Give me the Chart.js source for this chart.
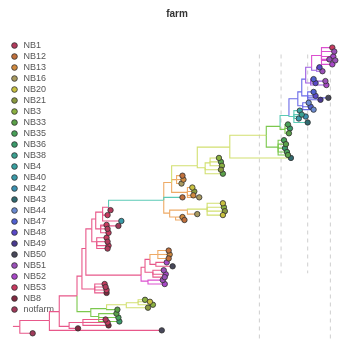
<!DOCTYPE html>
<html>
<head>
<meta charset="utf-8">
<script src="https://cdn.jsdelivr.net/npm/chart.js@4.4.1/dist/chart.umd.min.js"></script>
<style>
  html, body { margin: 0; padding: 0; background: #fff; }
  #wrap { width: 346px; height: 345px; }
</style>
</head>
<body>
<div id="wrap"><canvas id="tree"></canvas></div>
<script>
// legend groups (farms) and their colours
const groups = ['NB1', 'NB12', 'NB13', 'NB16', 'NB20', 'NB21', 'NB3', 'NB33', 'NB35', 'NB36', 'NB38', 'NB4',
  'NB40', 'NB42', 'NB43', 'NB44', 'NB47', 'NB48', 'NB49', 'NB50', 'NB51', 'NB52', 'NB53', 'NB8', 'notfarm'];
const groupColors = ['#b23a5c', '#c0703c', '#d08a40', '#a89a60', '#c8c040', '#8a9a40', '#8ab040', '#5aa048',
  '#48a058', '#3a9a6a', '#3aa090', '#38a0a0', '#3a9aa8', '#3a90b0', '#306a70', '#6a8ad0', '#5060d0', '#5a48c8',
  '#4a3a90', '#48485a', '#9a50b8', '#a848c8', '#c83a60', '#802a40', '#a03a5a'];

// branch tints
const tints = { pink: '#e8588a', orange: '#eeaa66', lime: '#d2e070', green: '#7cc84e', teal: '#5ccab6',
  blue: '#6a6ae8', purple: '#9a58e0', magenta: '#dc50d0' };

// internal nodes: divergence (x), tip position (y), parent, branch tint
const innerName = ['R', 'A', 'B', 'C', 'D', 'F', 'E', 'H', 'H1', 'H2', 'H3', 'H4', 'E2', 'I', 'G', 'K', 'K1', 'K2',
  'K3', 'K4', 'K5', 'K6', 'L', 'L1', 'L2', 'L3', 'L4', 'N', 'O', 'P', 'P1', 'P3', 'S', 'S1', 'S1a', 'T', 'U', 'W',
  'V', 'V1', 'X', 'X1', 'Y', 'Y1', 'Y2', 'Y3', 'Z', 'Z1', 'AA', 'AA1', 'AB', 'Q', 'Q1', 'Q2', 'R2'];
const innerX = [13, 20, 50, 60, 70, 84, 78, 92, 100, 108, 128, 140, 83, 96, 87, 143, 150, 147,
  155, 152, 158, 160, 93, 98, 97, 102, 104, 110, 166, 174, 179, 190, 200, 208, 213, 233, 270, 282,
  284, 289, 293, 298, 302, 307, 306, 312, 310, 315, 316, 321, 326, 172, 178, 190, 210];
const innerY = [331, 331, 325, 316, 331, 327, 300, 316, 321, 313, 309, 307, 280, 293, 252, 279, 285, 271,
  276, 263, 268, 258, 232, 245, 222, 232, 215, 210, 203, 185, 182, 195, 168, 170, 165, 149, 137, 149,
  128, 131, 117, 118, 100, 107, 93, 97, 80, 84, 68, 71, 56, 216, 220, 213, 212];
const innerParent = [null, 'R', 'A', 'B', 'C', 'D', 'C', 'E', 'H', 'H', 'H2', 'H3', 'E', 'E2', 'E2', 'G', 'K', 'K',
  'K2', 'K2', 'K4', 'K4', 'G', 'L', 'L', 'L2', 'L2', 'L4', 'N', 'O', 'P', 'P', 'P', 'S', 'S1', 'S', 'T', 'U',
  'U', 'V', 'V', 'X', 'X', 'Y', 'Y', 'Y2', 'Y2', 'Z', 'Z', 'AA', 'AA', 'O', 'Q', 'Q', 'Q2'];
const innerTint = ['pink', 'pink', 'pink', 'pink', 'pink', 'pink', 'pink', 'green', 'green', 'green', 'lime', 'lime',
  'pink', 'pink', 'pink', 'pink', 'magenta', 'pink', 'pink', 'pink', 'pink', 'orange', 'pink', 'pink', 'pink',
  'pink', 'pink', 'pink', 'teal', 'orange', 'orange', 'orange', 'lime', 'lime', 'lime', 'lime', 'lime', 'green',
  'green', 'green', 'teal', 'teal', 'blue', 'blue', 'blue', 'blue', 'blue', 'purple', 'purple', 'purple',
  'magenta', 'orange', 'orange', 'orange', 'lime'];

// tips
const tipX = [33, 164, 79, 107, 109, 110,
  118, 120, 121, 119, 150, 147, 152, 155,
  106, 107, 108, 108,
  165, 167, 166, 168, 167, 169, 175, 171, 172, 171,
  108, 109, 110, 109, 108, 109, 110, 120, 109, 123, 112,
  185, 186, 184, 195, 197, 196, 202, 185,
  222, 224, 225, 224, 226,
  288, 290, 289, 291, 292, 295, 292, 294, 293,
  304, 306, 303, 310, 312,
  313, 315, 318, 318, 320, 325, 333,
  318, 320, 330, 331, 324, 327,
  337, 339, 338, 340, 337, 334,
  185, 187, 200, 226, 227, 228, 226];
const tipY = [338, 335, 333, 324, 327, 330,
  318, 322, 326, 314, 312, 304, 306, 309,
  288, 291, 294, 297,
  284, 288, 274, 278, 281, 266, 270, 254, 258, 262,
  241, 245, 249, 252, 228, 232, 236, 229, 218, 224, 213,
  178, 182, 186, 190, 194, 198, 200, 200,
  160, 164, 168, 172, 176,
  142, 146, 150, 154, 157, 160, 126, 130, 135,
  112, 116, 120, 118, 124,
  104, 108, 111, 93, 97, 101, 99,
  80, 84, 82, 86, 68, 72,
  48, 52, 57, 61, 65, 60,
  220, 223, 217, 206, 210, 214, 218];
const tipParent = ['A', 'B', 'D', 'F', 'F', 'F',
  'H1', 'H1', 'H1', 'H2', 'H3', 'H4', 'H4', 'H4',
  'I', 'I', 'I', 'I',
  'K1', 'K1', 'K3', 'K3', 'K3', 'K5', 'K5', 'K6', 'K6', 'K6',
  'L1', 'L1', 'L1', 'L1', 'L3', 'L3', 'L3', 'L3', 'L4', 'L4', 'N',
  'P1', 'P1', 'P1', 'P3', 'P3', 'P3', 'P3', 'O',
  'S1a', 'S1a', 'S1a', 'S1', 'S1',
  'W', 'W', 'W', 'W', 'W', 'T', 'V1', 'V1', 'V1',
  'X1', 'X1', 'X1', 'X1', 'X1',
  'Y1', 'Y1', 'Y1', 'Y3', 'Y3', 'Y3', 'Y3',
  'Z1', 'Z1', 'Z1', 'Z1', 'AA1', 'AA1',
  'AB', 'AB', 'AB', 'AB', 'AB', 'AB',
  'Q1', 'Q1', 'Q2', 'R2', 'R2', 'R2', 'R2'];
const tipGroup = ['notfarm', 'NB50', 'NB8', 'NB1', 'NB53', 'NB8',
  'NB33', 'NB35', 'NB36', 'NB33', 'NB21', 'NB3', 'NB20', 'NB3',
  'NB53', 'NB1', 'NB53', 'NB8',
  'NB51', 'NB52', 'NB51', 'NB52', 'NB51', 'NB52', 'NB50', 'NB12', 'NB13', 'NB12',
  'NB53', 'NB1', 'NB53', 'NB1', 'NB53', 'NB1', 'NB53', 'notfarm', 'NB53', 'NB40', 'NB1',
  'NB12', 'NB13', 'NB16', 'NB20', 'NB21', 'NB13', 'NB16', 'NB12',
  'NB3', 'NB33', 'NB3', 'NB21', 'NB33',
  'NB35', 'NB33', 'NB36', 'NB35', 'NB33', 'NB43', 'NB35', 'NB36', 'NB33',
  'NB4', 'NB38', 'NB40', 'NB42', 'NB43',
  'NB44', 'NB47', 'NB44', 'NB47', 'NB48', 'NB49', 'NB50',
  'NB47', 'NB48', 'NB51', 'NB52', 'NB48', 'NB51',
  'NB53', 'NB51', 'NB52', 'NB51', 'NB52', 'NB51',
  'NB13', 'NB12', 'NB16', 'NB20', 'NB3', 'NB21', 'NB20'];

// dashed reference lines (x, top, bottom)
const guideX = [263, 285, 312, 335];
const guideTop = [55, 55, 55, 55];
const guideBottom = [345, 277, 277, 345];

const innerIdx = {};
innerName.forEach((n, i) => { innerIdx[n] = i; });

// rectangular tree edges: vertical at parent x, then horizontal to the child
const edgePts = [];
const edgeCols = [];
function addEdge(px, py, cx, cy, col) {
  edgePts.push({ x: px, y: py }, { x: px, y: cy }, { x: cx, y: cy }, { x: cx, y: null });
  edgeCols.push(col, col, col, col);
}
innerName.forEach((n, i) => {
  const p = innerParent[i];
  if (p === null) return;
  const j = innerIdx[p];
  addEdge(innerX[j], innerY[j], innerX[i], innerY[i], tints[innerTint[i]]);
});
tipX.forEach((x, i) => {
  const j = innerIdx[tipParent[i]];
  addEdge(innerX[j], innerY[j], x, tipY[i], tints[innerTint[j]]);
});

const datasets = groups.map((g, gi) => ({
  label: g,
  data: tipX.map((x, i) => ({ x: x, y: tipY[i], g: tipGroup[i] })).filter(p => p.g === g),
  backgroundColor: groupColors[gi],
  borderColor: '#2e2e2e',
  borderWidth: 0.8,
  pointRadius: 2.7,
  pointStyle: 'circle',
  showLine: false,
  clip: false,
  order: 1
}));

datasets.push({
  label: 'edges',
  data: edgePts,
  showLine: true,
  spanGaps: false,
  pointRadius: 0,
  borderWidth: 1.1,
  borderColor: tints.pink,
  segment: { borderColor: ctx => edgeCols[ctx.p0DataIndex] },
  clip: false,
  order: 5
});

guideX.forEach((x, i) => {
  datasets.push({
    label: 'guide',
    data: [{ x: x, y: guideTop[i] }, { x: x, y: guideBottom[i] }],
    showLine: true,
    pointRadius: 0,
    borderWidth: 1,
    borderColor: '#cfcfcf',
    borderDash: [4, 4],
    clip: false,
    order: 9
  });
});

new Chart(document.getElementById('tree'), {
  type: 'scatter',
  data: { datasets: datasets },
  options: {
    responsive: true,
    maintainAspectRatio: false,
    animation: false,
    layout: { padding: { left: 8, top: 0, right: 0, bottom: 0 } },
    scales: {
      x: { type: 'linear', min: 8, max: 346, display: false },
      y: { type: 'linear', reverse: true, min: 20, max: 345, display: false }
    },
    plugins: {
      title: {
        display: true,
        text: 'farm',
        color: '#333',
        font: { family: 'Liberation Sans, Arial, sans-serif', size: 10, weight: 'bold' },
        padding: { top: 8, bottom: 0 }
      },
      legend: {
        position: 'chartArea',
        align: 'start',
        // the chartArea legend is laid out from the canvas top, the empty title pushes it below the heading
        title: { display: true, text: '', padding: { top: 27, bottom: 0 }, font: { size: 10 } },
        labels: {
          usePointStyle: true,
          pointStyle: 'circle',
          boxWidth: 9,
          boxHeight: 4,
          padding: 2,
          color: '#555',
          font: { family: 'Liberation Sans, Arial, sans-serif', size: 9 },
          filter: item => item.datasetIndex < groups.length
        }
      },
      tooltip: { enabled: false }
    }
  }
});
</script>
</body>
</html>
